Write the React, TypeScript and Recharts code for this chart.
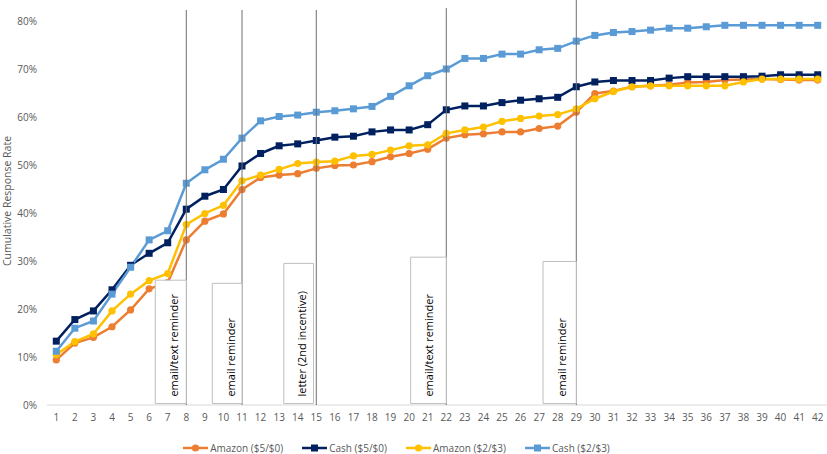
import { LineChart, Line, XAxis, YAxis, ReferenceLine, ReferenceArea } from "recharts";

const days = [
  1, 2, 3, 4, 5, 6, 7, 8, 9, 10, 11, 12, 13, 14, 15, 16, 17, 18, 19, 20, 21,
  22, 23, 24, 25, 26, 27, 28, 29, 30, 31, 32, 33, 34, 35, 36, 37, 38, 39, 40, 41, 42,
];

// cumulative response rate, percent
const amazon50 = [
  9.4, 12.9, 14.1, 16.3, 19.8, 24.2, 25.5, 34.4, 38.3, 39.8, 44.9, 47.4, 47.9, 48.2,
  49.3, 49.9, 50.0, 50.7, 51.7, 52.4, 53.3, 55.6, 56.3, 56.5, 56.9, 56.9, 57.6, 58.1,
  61.0, 64.9, 65.4, 66.3, 66.5, 66.7, 67.2, 67.3, 67.7, 67.8, 67.9, 67.8, 67.7, 67.7,
];
const cash50 = [
  13.3, 17.8, 19.6, 24.0, 29.1, 31.6, 33.8, 40.8, 43.5, 44.9, 49.8, 52.4, 54.0, 54.4,
  55.1, 55.8, 56.0, 56.9, 57.3, 57.3, 58.4, 61.5, 62.3, 62.3, 63.0, 63.5, 63.8, 64.1,
  66.3, 67.3, 67.6, 67.6, 67.6, 68.1, 68.4, 68.4, 68.4, 68.4, 68.5, 68.8, 68.8, 68.8,
];
const amazon23 = [
  10.5, 13.2, 14.8, 19.6, 23.1, 25.9, 27.4, 37.6, 39.9, 41.6, 46.7, 47.9, 49.1, 50.3,
  50.6, 50.8, 51.9, 52.2, 53.1, 54.0, 54.2, 56.6, 57.3, 57.9, 59.1, 59.7, 60.2, 60.5,
  61.7, 63.8, 65.3, 66.3, 66.5, 66.5, 66.5, 66.5, 66.5, 67.3, 67.9, 67.9, 67.9, 67.9,
];
const cash23 = [
  11.2, 16.0, 17.5, 23.1, 28.7, 34.4, 36.3, 46.2, 49.0, 51.2, 55.6, 59.2, 60.1, 60.4,
  61.0, 61.3, 61.7, 62.2, 64.3, 66.5, 68.6, 70.0, 72.2, 72.2, 73.1, 73.1, 74.0, 74.3,
  75.8, 77.0, 77.6, 77.8, 78.1, 78.5, 78.5, 78.8, 79.1, 79.1, 79.1, 79.1, 79.1, 79.1,
];

const yTicks = [0, 0.1, 0.2, 0.3, 0.4, 0.5, 0.6, 0.7, 0.8];

// reminder markers: day of the line, top of the line, note box
const markerDays = [8, 11, 15, 22, 29];
const markerTops = [0.823, 0.823, 0.823, 0.827, 0.845];
const noteTexts = [
  "email/text reminder",
  "email reminder",
  "letter (2nd incentive)",
  "email/text reminder",
  "email reminder",
];
const noteLefts = [6.33, 9.4, 13.25, 20.08, 27.21];
const noteRights = [8, 11, 14.85, 22, 29];
const noteTops = [0.26, 0.2535, 0.295, 0.308, 0.299];

const series = [
  { key: "amazon50", name: "Amazon ($5/$0)", color: "#ED7D31", shape: "circle" },
  { key: "cash50", name: "Cash ($5/$0)", color: "#002060", shape: "square" },
  { key: "amazon23", name: "Amazon ($2/$3)", color: "#FFC000", shape: "circle" },
  { key: "cash23", name: "Cash ($2/$3)", color: "#5B9BD5", shape: "square" },
];

const data = days.map((d, i) => ({
  day: d,
  amazon50: amazon50[i] / 100,
  cash50: cash50[i] / 100,
  amazon23: amazon23[i] / 100,
  cash23: cash23[i] / 100,
}));

const FONT = "'Open Sans', sans-serif";

function makeDot(color: string, shape: string) {
  return (props: any) => {
    const { cx, cy, index } = props;
    if (cx == null || cy == null) return <g key={`n-${index}`} />;
    if (shape === "square") {
      return <rect key={`d-${index}`} x={cx - 3.5} y={cy - 3.5} width={7} height={7} fill={color} />;
    }
    return <circle key={`d-${index}`} cx={cx} cy={cy} r={3.6} fill={color} />;
  };
}

function Note(props: any) {
  const { viewBox, text } = props;
  if (!viewBox) return null;
  const tx = viewBox.x + 18;
  const ty = viewBox.y + viewBox.height - 7;
  return (
    <text
      x={tx}
      y={ty}
      transform={`rotate(-90 ${tx} ${ty})`}
      fontSize={11}
      fontFamily={FONT}
      fill="#000"
      dominantBaseline="central"
    >
      {text}
    </text>
  );
}

function LegendRow() {
  return (
    <div
      style={{
        position: "absolute",
        top: 440,
        left: -17,
        width: 827,
        display: "flex",
        justifyContent: "center",
        gap: 19,
        fontFamily: FONT,
        fontSize: 10,
        color: "#595959",
        lineHeight: "16px",
      }}
    >
      {series.map((s) => (
        <div key={s.key} style={{ display: "flex", alignItems: "center" }}>
          <svg width={26} height={10} style={{ marginRight: 1 }}>
            <line x1={0} y1={5} x2={25} y2={5} stroke={s.color} strokeWidth={2.5} />
            {s.shape === "square" ? (
              <rect x={9} y={1.5} width={7} height={7} fill={s.color} />
            ) : (
              <circle cx={12.5} cy={5} r={3.6} fill={s.color} />
            )}
          </svg>
          <span>{s.name}</span>
        </div>
      ))}
    </div>
  );
}

export default function App() {
  return (
    <div style={{ position: "absolute", left: 0, top: 0, width: 827, height: 454, background: "#fff" }}>
      <LineChart width={827} height={454} data={data} margin={{ top: 21, right: 0, bottom: 24, left: 0 }}>
        <XAxis
          dataKey="day"
          type="number"
          domain={[0.5, 42.5]}
          ticks={days}
          interval={0}
          height={25}
          tickLine={false}
          tickSize={0}
          tickMargin={9}
          axisLine={{ stroke: "#d9d9d9" }}
          tick={{ fontSize: 10, fill: "#595959", fontFamily: FONT }}
        />
        <YAxis
          type="number"
          domain={[0, 0.8]}
          allowDataOverflow
          ticks={yTicks}
          width={47}
          axisLine={false}
          tickLine={false}
          tickSize={0}
          tickMargin={10}
          tickFormatter={(v) => `${Math.round(v * 100)}%`}
          tick={{ fontSize: 10, fill: "#595959", fontFamily: FONT }}
          label={{
            value: "Cumulative Response Rate",
            angle: -90,
            position: "insideLeft",
            offset: 7,
            dy: -12,
            style: { textAnchor: "middle", fontSize: 10.5, fill: "#595959", fontFamily: FONT },
          }}
        />
        {series.map((s) => (
          <Line
            key={s.key}
            dataKey={s.key}
            name={s.name}
            stroke={s.color}
            strokeWidth={2.5}
            dot={makeDot(s.color, s.shape)}
            activeDot={false}
            isAnimationActive={false}
          />
        ))}
        {markerDays.map((d, i) => (
          <ReferenceLine
            key={`l-${d}`}
            segment={[
              { x: d, y: 0 },
              { x: d, y: markerTops[i] },
            ]}
            stroke="#6e6e6e"
            strokeWidth={1}
            ifOverflow="visible"
            zIndex={700}
          />
        ))}
        {noteTexts.map((t, i) => (
          <ReferenceArea
            key={`n-${i}`}
            x1={noteLefts[i]}
            x2={noteRights[i]}
            y1={0.003}
            y2={noteTops[i]}
            fill="#fff"
            fillOpacity={1}
            stroke="#bfbfbf"
            strokeWidth={1}
            ifOverflow="visible"
            zIndex={800}
            label={<Note text={t} />}
          />
        ))}
      </LineChart>
      <LegendRow />
    </div>
  );
}
